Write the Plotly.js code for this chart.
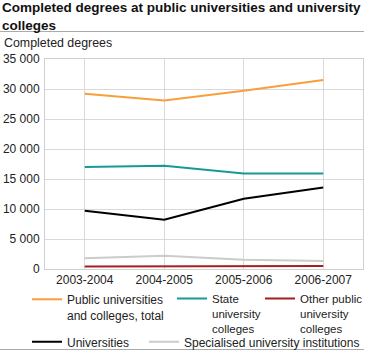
<!DOCTYPE html>
<html><head><meta charset="utf-8">
<script src="https://cdn.plot.ly/plotly-3.0.1.min.js"></script>
<style>html,body{margin:0;padding:0;background:#fff}#c{width:370px;height:352px}</style>
</head><body><div id="c"></div>
<script>
const years = ["2003-2004","2004-2005","2005-2006","2006-2007"];
const seriesNames = ["Public universities<br>and colleges, total","State<br>university<br>colleges","Other public<br>university<br>colleges","Universities","Specialised university institutions"];
const publicTotal = [29200, 28100, 29700, 31500];
const stateColleges = [17000, 17200, 15900, 15900];
const otherPublic = [400, 450, 500, 500];
const universities = [9700, 8200, 11700, 13600];
const specialised = [1800, 2200, 1550, 1330];
const colors = ["#f7a03a","#17999a","#a41f24","#000000","#cccccc"];
const yTicks = [0,5000,10000,15000,20000,25000,30000,35000];

const allVals = [publicTotal, stateColleges, otherPublic, universities, specialised];
const order = [4,2,3,1,0];
const traces = [];
const legendKeys = ["legend","legend2","legend3","legend4","legend5"];
for (let i=0;i<5;i++){
  traces.push({x:years,y:allVals[i],type:"scatter",mode:"lines",name:seriesNames[i],
    line:{color:colors[i],width:2},legend:legendKeys[i],hoverinfo:"skip"});
}
const CW=370, CH=352;
const W=318,H=210,L=45,T=59;
const px=(x)=> (x-L)/W, py=(y)=> (T+H-y)/H;
const cx=(x)=> x/CW, cy=(y)=> 1 - y/CH;
const legBase = {orientation:"v",bgcolor:"rgba(0,0,0,0)",font:{family:"Liberation Sans, Arial",size:12,color:"#222"},
  xref:"paper",yref:"paper",xanchor:"left",yanchor:"top",valign:"top",itemwidth:30,tracegroupgap:0};
const legPos = [[27,285],[172,284.5],[260,284.5],[27,327.5],[144,327.5]];
const legFont = [12,11.5,11.5,12,12];
const layout = {
  width:CW,height:CH,
  margin:{l:L,r:CW-L-W,t:T,b:CH-T-H,autoexpand:false},
  paper_bgcolor:"#fff",plot_bgcolor:"#fff",
  separators:". ",
  font:{family:"Liberation Sans, Arial",size:12,color:"#222"},
  title:{text:"<b>Completed degrees at public universities and university<br>colleges</b>",
    font:{family:"Liberation Sans, Arial",size:13.5,color:"#111"},
    xref:"container",yref:"container",x:cx(2),xanchor:"left",y:cy(12),yanchor:"top"},
  xaxis:{type:"category",range:[-0.5,3.5],showgrid:true,gridcolor:"#d9d9d9",gridwidth:1,
    showline:true,linecolor:"#d0d0d0",mirror:true,ticks:"",tickfont:{size:12,color:"#222"},fixedrange:true},
  yaxis:{range:[0,35000],tickvals:yTicks,tickformat:",d",showgrid:true,gridcolor:"#d9d9d9",gridwidth:1,
    showline:true,linecolor:"#d0d0d0",mirror:true,zeroline:false,ticks:"",ticklabelstandoff:2,tickfont:{size:12,color:"#222"},fixedrange:true},
  showlegend:true,
  annotations:[{text:"Completed degrees",xref:"paper",yref:"paper",x:px(2),y:py(43),xanchor:"left",yanchor:"middle",
    showarrow:false,font:{size:12.4,color:"#222"}}],
  shapes:[
    {type:"line",xref:"paper",yref:"paper",x0:px(0),x1:px(364),y0:py(31.5),y1:py(31.5),line:{color:"#aaaaaa",width:1}},
    {type:"line",xref:"paper",yref:"paper",x0:px(0),x1:px(364),y0:py(349.5),y1:py(349.5),line:{color:"#aaaaaa",width:1}}
  ]
};
for (let i=0;i<5;i++){
  layout[legendKeys[i]] = Object.assign({}, legBase, {x:px(legPos[i][0]), y:py(legPos[i][1]),
    font:Object.assign({}, legBase.font, {size:legFont[i]})});
}
Plotly.newPlot("c", order.map(i=>traces[i]), layout, {displayModeBar:false,staticPlot:true});
</script></body></html>
